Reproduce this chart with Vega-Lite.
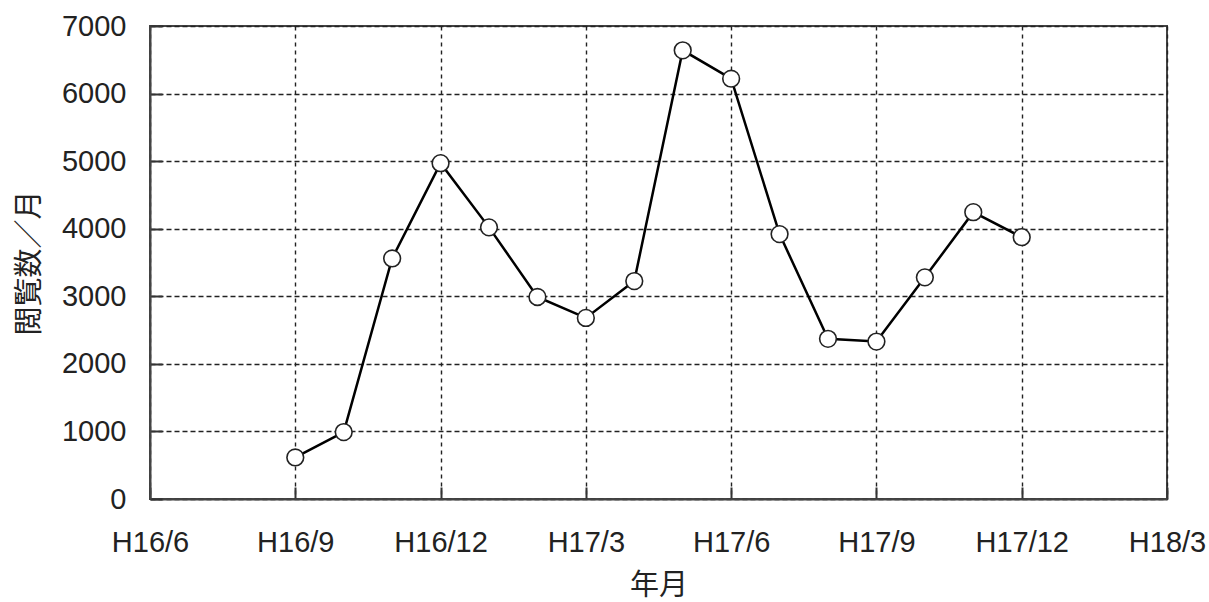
{
  "$schema": "https://vega.github.io/schema/vega-lite/v6.json",
  "width": 1017,
  "height": 473,
  "autosize": {"type": "none"},
  "padding": {"left": 150, "top": 26, "right": 42, "bottom": 103},
  "background": "white",
  "config": {
    "view": {"stroke": "#444", "strokeWidth": 2},
    "axis": {
      "labelFont": "Liberation Sans",
      "labelFontSize": 29,
      "labelColor": "#222",
      "titleFont": "Noto Sans CJK JP",
      "titleFontSize": 29,
      "titleFontWeight": "normal",
      "titleColor": "#222",
      "domainColor": "#444",
      "domainWidth": 2,
      "tickColor": "#333",
      "tickWidth": 2,
      "tickSize": -12,
      "gridColor": "#222",
      "gridWidth": 1.4,
      "gridDash": [5, 3],
      "gridOpacity": 1
    }
  },
  "data": {
    "values": [
      {"m": 3, "v": 615},
      {"m": 4, "v": 990},
      {"m": 5, "v": 3560},
      {"m": 6, "v": 4970},
      {"m": 7, "v": 4020},
      {"m": 8, "v": 2990},
      {"m": 9, "v": 2680},
      {"m": 10, "v": 3225},
      {"m": 11, "v": 6640},
      {"m": 12, "v": 6220},
      {"m": 13, "v": 3920},
      {"m": 14, "v": 2370},
      {"m": 15, "v": 2330},
      {"m": 16, "v": 3280},
      {"m": 17, "v": 4245},
      {"m": 18, "v": 3875}
    ]
  },
  "encoding": {
    "x": {
      "field": "m",
      "type": "quantitative",
      "scale": {"domain": [0, 21], "nice": false, "zero": false},
      "axis": {
        "title": "年月",
        "values": [0, 3, 6, 9, 12, 15, 18, 21],
        "labelExpr": "['H16/6','H16/9','H16/12','H17/3','H17/6','H17/9','H17/12','H18/3'][round(datum.value/3)]",
        "labelPadding": 41,
        "titlePadding": 14,
        "gridDash": [4, 4],
        "labelFlush": false
      }
    },
    "y": {
      "field": "v",
      "type": "quantitative",
      "scale": {"domain": [0, 7000], "nice": false},
      "axis": {
        "title": "閲覧数／月",
        "format": "d",
        "values": [0, 1000, 2000, 3000, 4000, 5000, 6000, 7000],
        "labelPadding": 36,
        "titlePadding": 17
      }
    }
  },
  "layer": [
    {"mark": {"type": "line", "color": "black", "strokeWidth": 2.5}},
    {"mark": {"type": "point", "filled": true, "fill": "white", "stroke": "#222", "strokeWidth": 1.6, "size": 280, "opacity": 1}}
  ]
}
